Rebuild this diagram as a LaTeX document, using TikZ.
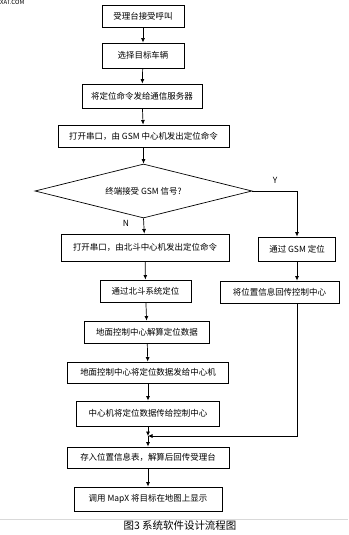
\documentclass[tikz,border=0pt]{standalone}
\usepackage{fontspec}
\setmainfont{Noto Sans CJK SC}
\usetikzlibrary{arrows.meta,shapes.geometric}
\begin{document}
\begin{tikzpicture}[>={Latex[length=4.5bp,width=4bp]},x=1bp,y=-1bp,every node/.style={font=\fontsize{8.5}{10}\selectfont},box/.style={draw,line width=.9bp,inner sep=0pt},link/.style={->,line width=.7bp}]
\useasboundingbox (0,0) rectangle (348,535);
\node[font=\fontsize{6}{7}\selectfont,anchor=north west,inner sep=0pt] (wm) at (0,0){XAT.COM};
\node[box,minimum width=82bp,minimum height=22bp] (b1) at (143,16){受理台接受呼叫};
\node[box,minimum width=82bp,minimum height=25bp] (b2) at (143,55.5){选择目标车辆};
\node[box,minimum width=120bp,minimum height=24bp] (b3) at (142,96){将定位命令发给通信服务器};
\node[box,minimum width=171bp,minimum height=22bp] (b4) at (143.5,136){打开串口，由 GSM 中心机发出定位命令};
\node[draw,line width=.7bp,diamond,aspect=4,inner sep=0pt,minimum width=217bp,minimum height=54bp] (d) at (143.5,191){终端接受 GSM 信号?};
\node[box,minimum width=168bp,minimum height=27bp] (b6) at (145,247.5){打开串口，由北斗中心机发出定位命令};
\node[box,minimum width=91bp,minimum height=22bp] (b7) at (145.5,291){通过北斗系统定位};
\node[box,minimum width=125bp,minimum height=22bp] (b8) at (147,332){地面控制中心解算定位数据};
\node[box,minimum width=161bp,minimum height=21bp] (b9) at (148,372.5){地面控制中心将定位数据发给中心机};
\node[box,minimum width=143bp,minimum height=25bp] (b10) at (148,413.5){中心机将定位数据传给控制中心};
\node[box,minimum width=162bp,minimum height=21bp] (b11) at (148,457.5){存入位置信息表，解算后回传受理台};
\node[box,minimum width=148bp,minimum height=24bp] (b12) at (148,499){调用 MapX 将目标在地图上显示};
\node[box,minimum width=77bp,minimum height=24bp] (r1) at (297,249){通过 GSM 定位};
\node[box,minimum width=119bp,minimum height=22bp] (r2) at (279.5,292){将位置信息回传控制中心};
\node (y) at (275,180){Y};\node (n) at (126,223){N};
\coordinate (m) at (148,436);\coordinate (rt) at (297,303);
\draw[link] (b1)--(b2);\draw[link] (b2)--(b3);\draw[link] (b3)--(b4);\draw[link] (b4)--(d.north);
\draw[link] (d.south)--(b6);\draw[link] (b6)--(b7);\draw[link] (b7)--(b8);\draw[link] (b8)--(b9);\draw[link] (b9)--(b10);
\draw[link] (b10)--(m);\draw[link] (m)--(b11);\draw[link] (b11)--(b12);
\draw[link] (d.east)-|(r1);\draw[link] (r1)--(r1|-r2.north);\draw[link] (rt)|-(m);
\draw[black!15] (0,519)--(348,519);
\node[font=\fontsize{10.5}{12}\selectfont] (cap) at (180,526){图3 系统软件设计流程图};
\end{tikzpicture}
\end{document}
